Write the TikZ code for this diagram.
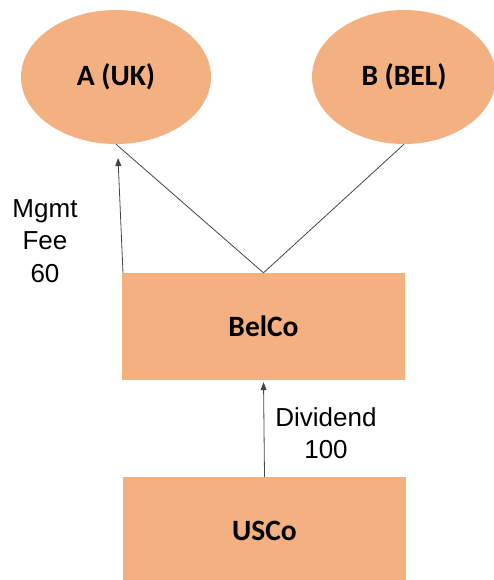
\documentclass[tikz,border=0pt]{standalone}
\usepackage{fontspec}
\setmainfont{Liberation Sans}
\newfontfamily\boxfont{Carlito}
\usetikzlibrary{shapes.geometric,arrows.meta}
\definecolor{entityorange}{RGB}{243,176,129}
\definecolor{linkgray}{RGB}{70,70,70}
\begin{document}
\begin{tikzpicture}[x=1pt,y=-1pt,
        entity/.style={fill=entityorange,draw=none,font=\boxfont\bfseries\fontsize{29.5}{34}\selectfont},
        company/.style={entity,rectangle,minimum width=283pt,minimum height=107pt,inner sep=0pt},
        owner/.style={entity,ellipse,minimum width=190pt,minimum height=134pt,inner sep=0pt},
        link/.style={linkgray,line width=0.8pt},
        flow/.style={link,-{Triangle[width=6pt,length=8pt]}},
        amount/.style={align=center,font=\fontsize{26}{32.5}\selectfont}]
                \clip (0,0) rectangle (494,580);
                \node[owner] (uk) at (116,77) {A (UK)};
                \node[owner,minimum width=184pt] (bel) at (404,77) {B (BEL)};
                \node[company] (belco) at (263.5,326.5) {BelCo};
                \node[company] (usco) at (264.5,530.5) {USCo};
                % ownership
                \draw[link] (uk.south) -- (belco.north);
                \draw[link] (bel.south) -- (belco.north);
                % payments
                \coordinate (feestart) at (123,273);
                \coordinate (feeend) at (118,158);
                \draw[flow] (feestart) -- (feeend);
                \draw[flow,shorten >=2pt] (usco.north) -- (belco.south);
                \node[amount] (fee) at (45,241) {Mgmt\\Fee\\60};
                \node[amount] (div) at (326,433) {Dividend\\100};
            \end{tikzpicture}
\end{document}
